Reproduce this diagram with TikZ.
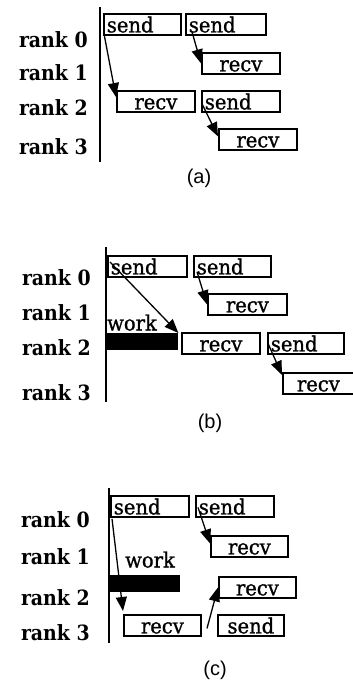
\documentclass[tikz,border=0pt]{standalone}
\usepackage{fontspec}
\newfontfamily\capfont{Liberation Sans}
\newfontfamily\boxfont[FakeStretch=0.93,FakeBold=1]{DejaVu Serif}
\newfontfamily\lblfont[FakeStretch=0.9]{DejaVu Serif}
\usetikzlibrary{arrows.meta}
\begin{document}
\begin{tikzpicture}[x=1pt,y=-1pt,
 box/.style={draw, line width=1.8pt, anchor=north west, inner xsep=3pt, inner ysep=0pt,
   minimum height=21pt, text height=16pt, text depth=0pt, text width=#1,
   font=\boxfont\fontsize{21}{21}\selectfont},
 sbox/.style={box=#1, align=left},
 rbox/.style={box=#1, align=center},
 rank/.style={anchor=east, inner sep=0pt, font=\lblfont\bfseries\fontsize{21}{21}\selectfont},
 axis/.style={line width=2pt},
 arr/.style={line width=1.3pt, -{Triangle[length=14pt,width=11pt]}},
 workbar/.style={fill=black, anchor=north west, inner sep=0pt},
 worklbl/.style={anchor=south west, inner sep=0pt, font=\boxfont\fontsize{21}{21}\selectfont},
 caplbl/.style={font=\capfont\fontsize{20}{20}\selectfont}
]
\useasboundingbox (0,0) rectangle (353,685);

% ---------- panel (a)
\coordinate (atop) at (100,7);
\coordinate (abot) at (100,162);
\draw[axis] (atop) -- (abot);
\node[rank] (a0) at (88,40) {rank 0};
\node[rank] (a1) at (88,73) {rank 1};
\node[rank] (a2) at (88,108) {rank 2};
\node[rank] (a3) at (88,147) {rank 3};
\node[sbox=71pt] (as1) at (103,13) {send};
\node[sbox=74pt] (as2) at (185,13) {send};
\node[rbox=72pt] (ar1) at (201,52) {recv};
\node[rbox=72pt] (ar2) at (116,90) {recv};
\node[sbox=72pt] (as3) at (201,90) {send};
\node[rbox=72pt] (ar3) at (218,128) {recv};
\draw[arr] ([shift={(1,-2)}]as1.south west) -- ([shift={(0,7)}]ar2.north west);
\draw[arr] ([shift={(7,-4)}]as2.south west) -- (ar1.west);
\draw[arr] ([shift={(1,-9)}]as3.south west) -- ([shift={(0,-3)}]ar3.west);
\node[caplbl] (capa) at (199,178) {(a)};

% ---------- panel (b)
\coordinate (btop) at (106,247);
\coordinate (bbot) at (106,402);
\draw[axis] (btop) -- (bbot);
\node[rank] (b0) at (91,278) {rank 0};
\node[rank] (b1) at (91,313) {rank 1};
\node[rank] (b2) at (91,348) {rank 2};
\node[rank] (b3) at (91,393) {rank 3};
\node[sbox=73pt] (bs1) at (107,255) {send};
\node[sbox=71pt] (bs2) at (193,255) {send};
\node[rbox=73pt] (br1) at (207,293) {recv};
\node[workbar, minimum width=71pt, minimum height=17pt] (bw) at (107,333) {};
\node[worklbl] (bwl) at (107,331) {work};
\node[rbox=72pt] (br2) at (181,332) {recv};
\node[sbox=70pt] (bs3) at (267,332) {send};
\node[rbox=65pt] (br3) at (282,372) {recv};
\draw[arr] ([shift={(3,7)}]bs1.north west) -- (bw.north east);
\draw[arr] ([shift={(4,-6)}]bs2.south west) -- (br1.west);
\draw[arr] ([shift={(1,0)}]bs3.west) -- ([shift={(0,3)}]br3.north west);
\node[caplbl] (capb) at (210,423) {(b)};

% ---------- panel (c)
\coordinate (ctop) at (109,488);
\coordinate (cbot) at (109,643);
\draw[axis] (ctop) -- (cbot);
\node[rank] (c0) at (90,520) {rank 0};
\node[rank] (c1) at (90,557) {rank 1};
\node[rank] (c2) at (90,598) {rank 2};
\node[rank] (c3) at (90,633) {rank 3};
\node[sbox=72pt] (cs1) at (110,495) {send};
\node[sbox=72pt] (cs2) at (195,495) {send};
\node[rbox=71pt] (cr1) at (210,535) {recv};
\node[worklbl] (cwl) at (125,568) {work};
\node[workbar, minimum width=70pt, minimum height=17pt] (cw) at (110,575) {};
\node[rbox=71pt] (cr2) at (218,576) {recv};
\node[rbox=71pt] (cr3) at (123,614) {recv};
\node[rbox=60pt] (cs3) at (217,614) {send};
\draw[arr] ([shift={(2,1)}]cs1.south west) -- ([shift={(0,-3)}]cr3.north west);
\draw[arr] ([shift={(3,1)}]cs2.west) -- ([shift={(0,-3)}]cr1.west);
\draw[arr] ([shift={(-10,3)}]cs3.west) -- (cr2.west);
\node[caplbl] (capc) at (215,670) {(c)};
\end{tikzpicture}
\end{document}
